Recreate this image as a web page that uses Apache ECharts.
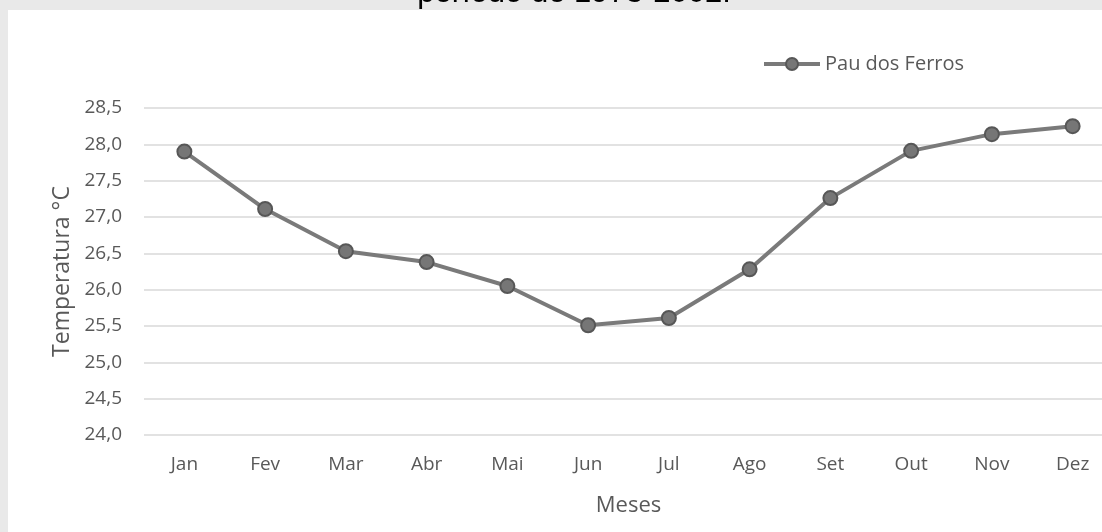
<!DOCTYPE html>
<html>
<head>
<meta charset="utf-8">
<script src="https://cdn.jsdelivr.net/npm/echarts@6/dist/echarts.min.js"></script>
<style>
html, body { margin: 0; padding: 0; background: #e9e9e9; }
#chart { width: 1102px; height: 532px; }
</style>
</head>
<body>
<div id="chart"></div>
<script>
// meses e temperaturas médias (Pau dos Ferros)
var months = ['Jan', 'Fev', 'Mar', 'Abr', 'Mai', 'Jun', 'Jul', 'Ago', 'Set', 'Out', 'Nov', 'Dez'];
var temps = [27.9, 27.11, 26.53, 26.38, 26.05, 25.51, 25.61, 26.28, 27.26, 27.91, 28.14, 28.25];
var seriesName = 'Pau dos Ferros';
var titleText = 'período de 1973-2002.';

var txt = '#595959';
var font = '"Open Sans", sans-serif';

var chart = echarts.init(document.getElementById('chart'));

chart.setOption({
    backgroundColor: '#e9e9e9',
    animation: false,
    graphic: [
        {
            type: 'text',
            z: -20,
            x: 574,
            y: -22,
            style: { text: titleText, font: '31px "Liberation Sans", Arial, sans-serif', fill: '#000', align: 'center' }
        },
        {
            type: 'rect',
            z: -10,
            shape: { x: 8, y: 10, width: 1094, height: 522 },
            style: { fill: '#ffffff' }
        }
    ],
    legend: {
        data: [seriesName],
        left: 757,
        top: 49,
        itemWidth: 56,
        itemHeight: 15,
        itemGap: 6,
        lineStyle: { width: 4 },
        textStyle: { color: txt, fontSize: 20, fontFamily: font }
    },
    grid: {
        left: 144,
        right: -11,
        top: 108,
        bottom: 97,
        outerBoundsMode: 'none'
    },
    xAxis: {
        type: 'category',
        data: months,
        boundaryGap: true,
        name: 'Meses',
        nameLocation: 'middle',
        nameGap: 60,
        nameTextStyle: { color: txt, fontSize: 22, fontFamily: font },
        axisLine: { show: false },
        axisTick: { show: false },
        axisLabel: { color: txt, fontSize: 19, fontFamily: font, margin: 20 }
    },
    yAxis: {
        type: 'value',
        min: 24,
        max: 28.5,
        interval: 0.5,
        name: 'Temperatura °C',
        nameLocation: 'middle',
        nameGap: 70,
        nameTextStyle: { color: txt, fontSize: 23, fontFamily: font },
        axisLine: { show: false },
        axisTick: { show: false },
        splitLine: { lineStyle: { color: '#d9d9d9', width: 1.5 } },
        axisLabel: {
            color: txt,
            fontSize: 19,
            fontFamily: font,
            margin: 22,
            formatter: function (v) { return v.toFixed(1).replace('.', ','); }
        }
    },
    series: [
        {
            name: seriesName,
            type: 'line',
            data: temps,
            symbol: 'circle',
            symbolSize: 14,
            lineStyle: { color: '#7a7a7a', width: 4 },
            itemStyle: { color: '#767676', borderColor: '#575757', borderWidth: 2 }
        }
    ]
});
</script>
</body>
</html>
